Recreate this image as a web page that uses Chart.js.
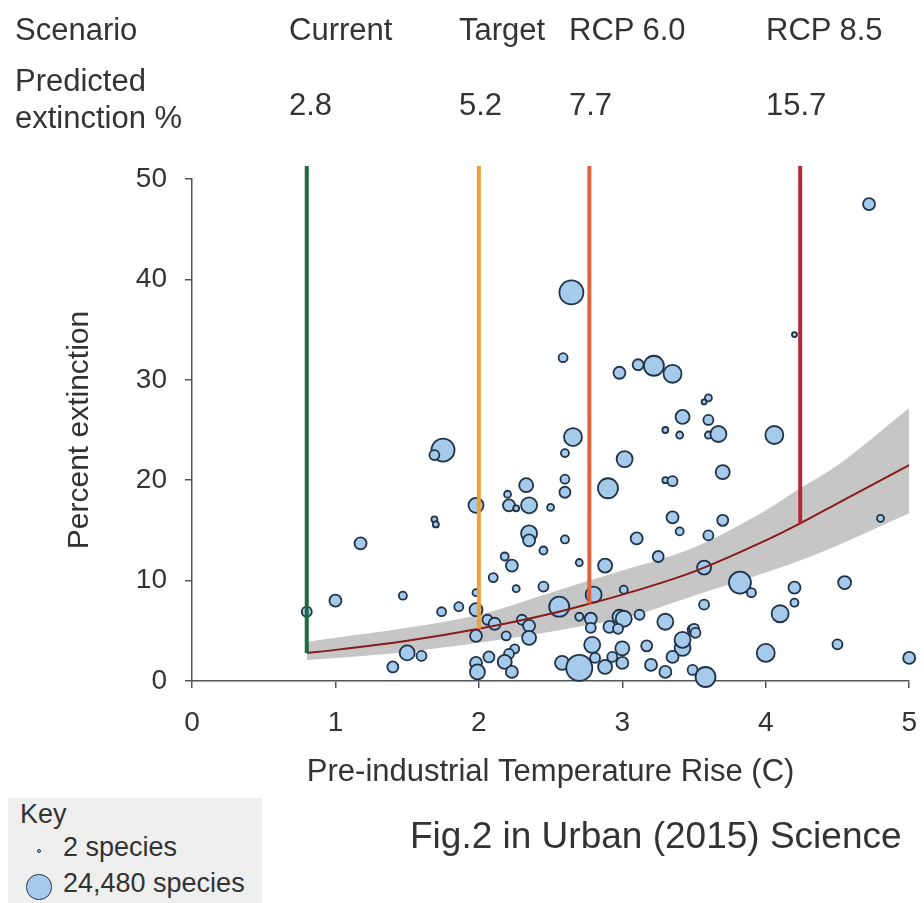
<!DOCTYPE html>
<html><head><meta charset="utf-8">
<script src="https://cdn.jsdelivr.net/npm/chart.js@4/dist/chart.umd.min.js"></script>
<style>
html,body{margin:0;padding:0;background:#fff;}
#wrap{position:relative;width:924px;height:903px;overflow:hidden;font-family:'Liberation Sans',Arial,sans-serif;color:#333;}
#c{position:absolute;left:0;top:0;}
.t{position:absolute;white-space:nowrap;line-height:1;}
#key{position:absolute;left:8px;top:798px;width:254px;height:105px;background:#efefef;}
.dot{position:absolute;border-radius:50%;background:#a6cbea;border:1.5px solid #23384f;box-sizing:border-box;}
</style></head><body>
<div id="wrap">
<canvas id="c" width="924" height="903"></canvas>
<div id="key"></div>
</div>
<script>
// ---- data ----
const scenarioNames = ['Current', 'Target', 'RCP 6.0', 'RCP 8.5'];
const scenarioTemp = [0.8, 2.0, 2.77, 4.24];
const scenarioExtinction = [2.8, 5.2, 7.7, 15.7];
const scenarioLineTop = 51.3;

const curveTemp  = [0.8, 1.0, 1.5, 2.0, 2.5, 2.77, 3.0, 3.5, 4.0, 4.24, 4.5, 5.0];
const curveMean  = [2.8, 3.1, 4.0, 5.2, 6.7, 7.7, 8.6, 10.9, 14.0, 15.7, 17.7, 21.5];
const curveUpper = [3.9, 4.3, 5.3, 6.6, 8.8, 10.0, 11.0, 13.3, 17.0, 19.2, 21.5, 27.2];
const curveLower = [2.1, 2.3, 2.9, 3.8, 4.9, 5.6, 6.2, 8.5, 10.8, 12.0, 13.5, 16.7];

const bubbleTemp = [1.75,1.69,1.98,1.69,1.70,1.175,1.0,1.47,0.80,1.74,1.86,1.98,1.98,1.98,1.50,1.60,1.40,1.98,1.99,
 2.645,2.587,2.98,3.11,3.22,3.35,3.42,3.30,3.40,2.656,2.60,3.016,2.60,2.33,2.60,2.90,3.30,3.35,2.20,2.21,2.26,2.35,2.50,
 3.35,3.40,3.10,2.35,2.35,2.60,2.45,2.18,2.23,2.70,2.88,3.25,2.10,2.26,2.45,3.01,2.80,2.56,2.06,2.11,2.30,2.70,2.78,2.98,
 3.01,3.12,3.30,2.78,2.35,2.91,2.97,3.49,2.19,2.35,2.79,3.0,3.17,3.42,3.35,2.25,2.21,2.07,2.18,2.23,2.58,2.70,2.81,2.88,
 2.93,3.0,3.20,3.30,3.49,4.72,4.20,3.60,3.57,3.60,3.60,3.67,4.06,3.70,3.70,3.60,4.80,3.57,3.82,3.90,4.20,4.20,4.55,3.57,
 4.10,3.50,3.51,3.42,4.0,4.50,5.0,3.58];
const bubblePct = [23.0,22.5,17.5,16.1,15.6,13.7,8.0,8.5,6.9,6.9,7.4,7.1,8.8,4.5,2.8,2.5,1.4,1.8,0.9,
 38.7,32.2,30.7,31.5,31.4,30.6,26.3,25.0,24.5,24.3,22.7,22.1,20.1,19.5,18.8,19.2,20.0,19.9,18.6,17.5,17.2,17.5,17.3,
 16.3,14.9,14.2,14.7,14.0,14.1,13.0,12.4,11.5,11.8,11.5,12.4,10.3,9.2,9.4,9.1,8.6,7.4,6.1,5.7,6.1,6.4,6.2,6.4,
 6.2,6.6,5.9,5.3,5.5,5.4,5.2,5.1,4.5,4.3,3.6,3.25,3.5,3.3,2.4,3.2,2.7,2.4,1.9,0.9,1.8,1.3,2.3,1.4,
 2.4,1.8,1.6,0.9,1.1,47.5,34.5,28.2,27.8,26.0,24.5,24.6,24.5,20.8,16.0,14.5,16.2,11.3,9.8,8.8,9.3,7.8,9.8,7.6,
 6.7,5.2,4.8,4.1,2.8,3.65,2.3,0.4];
const bubbleSpecies = [18300,1820,6100,200,200,3240,3240,810,1820,1260,1260,4100,460,3240,6100,1820,2480,3240,6100,
 20200,1260,3240,2480,12950,9910,5060,200,460,9910,810,7280,1260,5060,2480,12950,200,1820,460,3240,200,7280,460,
 3240,810,3240,7280,3240,810,810,810,3240,460,5060,2480,1260,460,1820,810,7280,12950,1820,3240,1820,810,3240,5060,
 7280,1820,7280,1820,3240,3240,1820,1820,1260,5060,7280,5060,2480,7280,3240,1260,1820,2480,5060,3240,5060,24480,1820,5060,
 1820,3240,3240,3240,1820,3240,50,460,50,1820,460,7280,9910,5060,2480,1820,460,5060,16390,1260,3240,810,4100,1820,
 8550,1820,1820,7280,9910,1820,3240,12950];

const keySpecies = [2, 24480];
const keyLabels = ['2 species', '24,480 species'];
const xTicks = [0, 1, 2, 3, 4, 5];
const yTicks = [0, 10, 20, 30, 40, 50];

// ---- styling / layout ----
const FONT = "'Liberation Sans', Arial, sans-serif";
const TEXT = '#333';
const scenarioColors = ['#1f6a3c', '#eda13a', '#e2633f', '#b3283a'];
const maxSpecies = 24480;
function radiusFor(n) { return 2 + 11 * Math.sqrt(n / maxSpecies); }

Chart.defaults.font.family = FONT;

const datasets = [];
datasets.push({type:'line', data: curveTemp.map((x,i)=>({x, y: curveUpper[i]})), borderWidth:0, pointRadius:0,
  backgroundColor:'#c6c6c6', fill:'+1', cubicInterpolationMode:'monotone', order:10});
datasets.push({type:'line', data: curveTemp.map((x,i)=>({x, y: curveLower[i]})), borderWidth:0, pointRadius:0,
  backgroundColor:'#c6c6c6', fill:false, cubicInterpolationMode:'monotone', order:10});
datasets.push({type:'line', data: curveTemp.map((x,i)=>({x, y: curveMean[i]})), borderWidth:2, borderColor:'#8a1b1b',
  pointRadius:0, fill:false, cubicInterpolationMode:'monotone', order:2});
scenarioTemp.forEach((t,i)=>{
  datasets.push({type:'line', data:[{x:t, y:scenarioExtinction[i]},{x:t, y:scenarioLineTop}], borderColor:scenarioColors[i],
    borderWidth:4, pointRadius:0, fill:false, clip:false, order:1, borderCapStyle:'butt'});
});
datasets.push({type:'bubble', data: bubbleTemp.map((x,i)=>({x, y: bubblePct[i], r: radiusFor(bubbleSpecies[i])})),
  backgroundColor:'#a6cbea', borderColor:'#1f3249', borderWidth:1.8, clip:false, order:5});

const tickFont = {size:28, family:FONT};
const titleFont = {size:31, family:FONT};
new Chart(document.getElementById('c'), {
  data: {datasets},
  options: {
    responsive:false, animation:false, devicePixelRatio:1,
    layout:{padding:{top:179, right:13, bottom:112, left:0}},
    plugins:{legend:{display:false}, tooltip:{enabled:false}},
    scales:{
      x:{type:'linear', min:0, max:5,
        afterBuildTicks: s => { s.ticks = xTicks.map(v=>({value:v})); },
        ticks:{font:tickFont, color:TEXT, padding:18, maxRotation:0},
        grid:{drawOnChartArea:false, drawTicks:true, tickLength:7, color:'#555', lineWidth:1.5},
        border:{color:'#555', width:1.5},
        title:{display:true, text:'Pre-industrial Temperature Rise (C)', font:titleFont, color:TEXT, padding:{top:0,bottom:0}},
        afterFit: s => { s.height = 110; s.paddingLeft = 0; s.paddingRight = 0; }
      },
      y:{type:'linear', min:0, max:50,
        afterBuildTicks: s => { s.ticks = yTicks.map(v=>({value:v})); },
        ticks:{font:tickFont, color:TEXT, padding:18},
        grid:{drawOnChartArea:false, drawTicks:true, tickLength:7, color:'#555', lineWidth:1.5},
        border:{color:'#555', width:1.5},
        title:{display:true, text:'Percent extinction', font:{size:30, family:FONT}, color:TEXT, padding:{top:62,bottom:0}},
        afterFit: s => { s.width = 192; s.paddingTop = 0; s.paddingBottom = 0; }
      }
    }
  }
});

// ---- header & key (HTML text) ----
const wrap = document.getElementById('wrap');
function addText(txt, left, baseline, size, parent) {
  const d = document.createElement('div');
  d.className = 't';
  d.textContent = txt;
  d.style.fontSize = size + 'px';
  d.style.left = left + 'px';
  d.style.top = (baseline - 0.8465 * size) + 'px';
  (parent || wrap).appendChild(d);
  return d;
}
const headerX = [289, 459, 569, 766];
addText('Scenario', 15, 40, 31);
addText('Predicted', 15, 91, 31);
addText('extinction %', 15, 128, 31);
scenarioNames.forEach((n,i)=>{
  addText(n, headerX[i], 40, 31);
  addText(String(scenarioExtinction[i]), headerX[i], 115, 31);
});
addText('Fig.2 in Urban (2015) Science', 410, 848, 37);

const key = document.getElementById('key');
addText('Key', 12, 26, 27, key);
const keyBase = [59, 95];
keySpecies.forEach((n,i)=>{
  const r = radiusFor(n) * (i === 0 ? 1 : 0.97);
  const c = document.createElement('div');
  c.className = 'dot';
  c.style.width = c.style.height = (2*r) + 'px';
  c.style.left = (31 - r) + 'px';
  c.style.top = (keyBase[i] - 6 - r) + 'px';
  key.appendChild(c);
  addText(keyLabels[i], 55, keyBase[i], 27, key);
});
</script>
</body></html>
